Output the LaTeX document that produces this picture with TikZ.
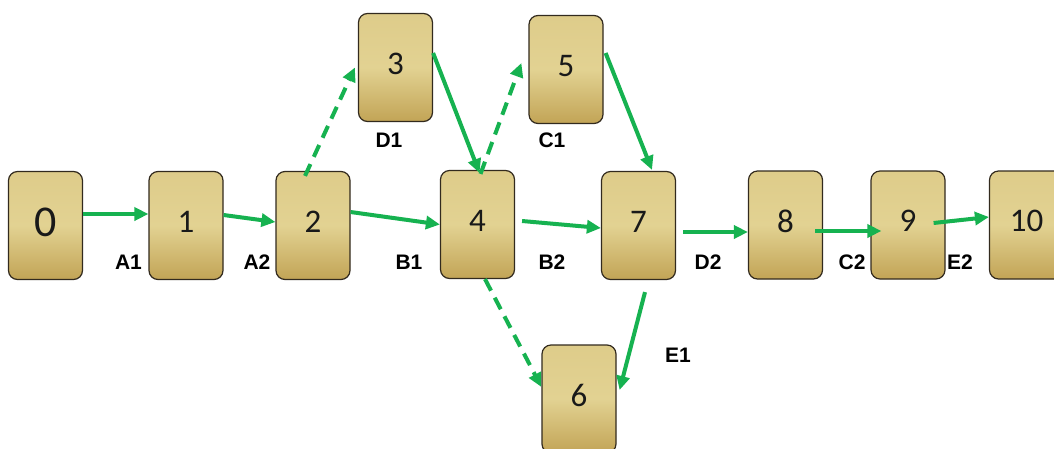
\documentclass[tikz,border=0pt]{standalone}
\usepackage{fontspec}
\setmainfont{Carlito}
\newfontfamily\lblfont{Liberation Sans}
\usetikzlibrary{arrows.meta}
\definecolor{arrgreen}{RGB}{22,178,80}
\definecolor{boxtop}{RGB}{222,204,138}
\definecolor{boxmid}{RGB}{226,210,146}
\definecolor{boxbot}{RGB}{194,164,86}
\definecolor{boxline}{RGB}{50,42,30}
\tikzset{
  actbox/.style={draw=boxline, line width=1.2pt, rounded corners=9pt,
    minimum width=74pt, minimum height=108pt, inner sep=0pt, text depth=8pt,
    top color=boxtop, bottom color=boxbot, middle color=boxmid,
    font=\fontsize{33}{33}\selectfont, text=black!90},
  lbl/.style={font=\lblfont\bfseries\fontsize{21}{21}\selectfont, inner sep=0pt},
  flow/.style={draw=arrgreen, line width=4pt,
    -{Triangle[length=14pt,width=13pt]}},
  dflow/.style={flow, dash pattern=on 13pt off 8pt},
}
\begin{document}
\begin{tikzpicture}[x=1pt,y=-1pt]
\useasboundingbox (0,0) rectangle (1054,448);
\clip (0,0) rectangle (1054,448);
\fill[white] (0,0) rectangle (1054,448);
% boxes
\node[actbox, font=\fontsize{44}{44}\selectfont, text depth=6pt] (n0) at (45.5,225.5) {0};
\node[actbox] (n1) at (186,225.5) {1};
\node[actbox] (n2) at (313,225.5) {2};
\node[actbox] (n3) at (395.5,67.5) {3};
\node[actbox] (n4) at (477.5,224.5) {4};
\node[actbox] (n5) at (566,69.5) {5};
\node[actbox] (n7) at (638.5,225.5) {7};
\node[actbox] (n8) at (785.5,225) {8};
\node[actbox] (n9) at (908,225) {9};
\node[actbox] (n10) at (1026.5,225) {10};
\node[actbox] (n6) at (579,399) {6};
% connectors
\draw[flow] ([yshift=11.5pt]n0.east) -- ([yshift=11.5pt]n1.west);
\draw[flow] ([yshift=10.5pt]n1.east) -- ([yshift=3.5pt]n2.west);
\draw[dflow] ([xshift=-8pt,yshift=-5pt]n2.north) -- ([xshift=-3pt]n3.west);
\draw[flow] ([yshift=13.5pt]n2.east) -- (n4.west);
\draw[flow] ([yshift=14.5pt]n3.east) -- ([xshift=2pt,yshift=-3pt]n4.north);
\draw[dflow] ([xshift=3pt,yshift=-4pt]n4.north) -- ([xshift=-7pt,yshift=6.5pt]n5.west);
\draw[flow] ([xshift=2pt,yshift=16.5pt]n5.east) -- ([xshift=13.5pt,yshift=1pt]n7.north);
\draw[flow] ([xshift=7pt,yshift=3.5pt]n4.east) -- ([yshift=-2.5pt]n7.west);
\draw[dflow] ([xshift=7.5pt]n4.south) -- ([yshift=12pt]n6.west);
\draw[flow] ([xshift=6.5pt,yshift=-12pt]n7.south) -- ([xshift=3pt,yshift=9pt]n6.east);
\draw[flow] ([xshift=7pt,yshift=-6.5pt]n7.east) -- ([yshift=-7pt]n8.west);
\draw[flow] ([xshift=-8pt,yshift=-6pt]n8.east) -- ([xshift=11pt,yshift=-6pt]n9.west);
\draw[flow] ([xshift=-12pt,yshift=2pt]n9.east) -- ([yshift=8pt]n10.west);
% labels
\node[lbl] (lA1) at (128.5,262) {A1};
\node[lbl] (lA2) at (257,262) {A2};
\node[lbl] (lD1) at (389,140) {D1};
\node[lbl] (lC1) at (552,140) {C1};
\node[lbl] (lB1) at (409,262) {B1};
\node[lbl] (lB2) at (552,262) {B2};
\node[lbl] (lD2) at (708,262) {D2};
\node[lbl] (lC2) at (852,262) {C2};
\node[lbl] (lE2) at (960,262) {E2};
\node[lbl] (lE1) at (678,355) {E1};
\end{tikzpicture}
\end{document}
